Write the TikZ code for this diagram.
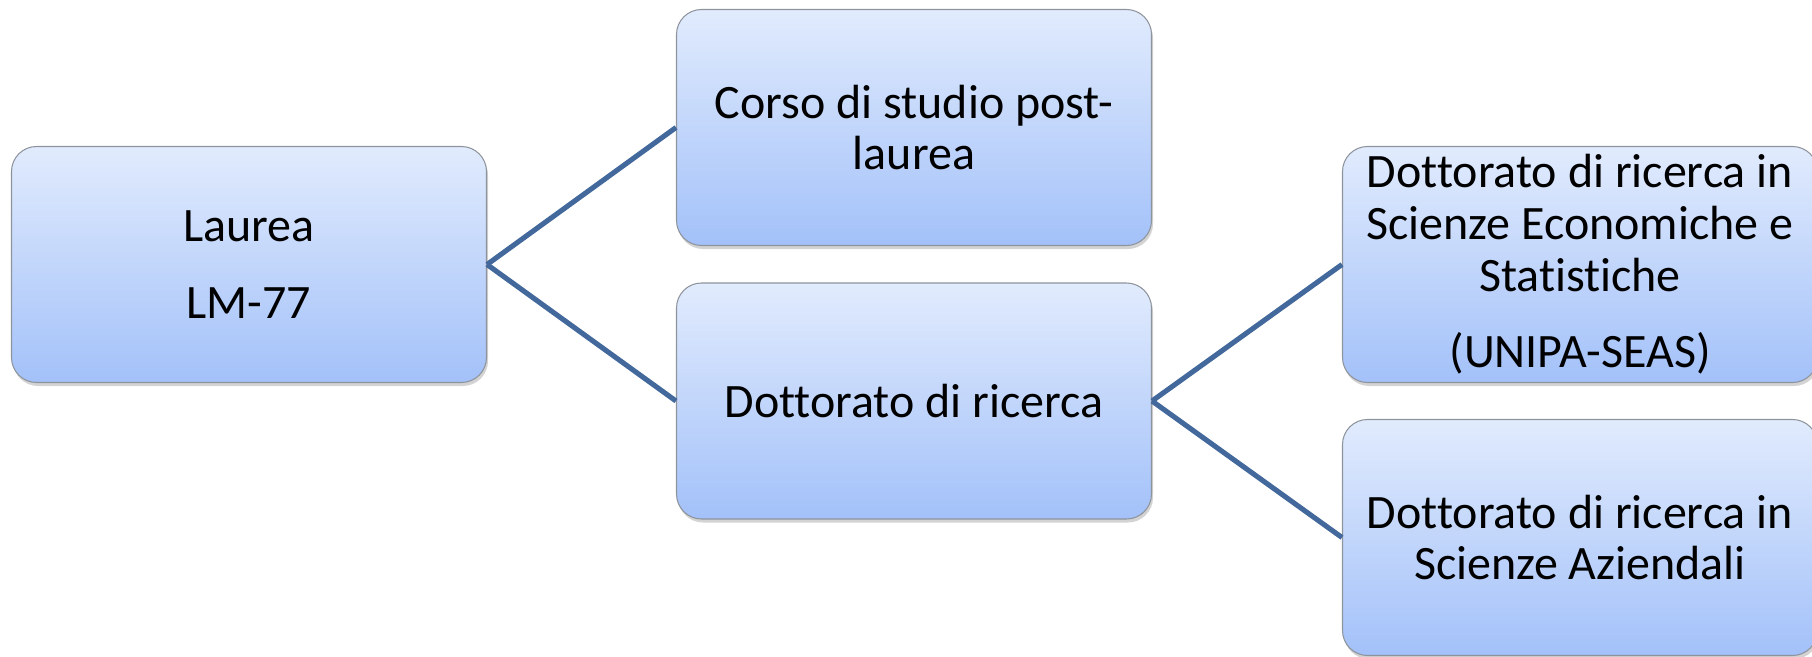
\documentclass[tikz,border=0pt]{standalone}
\usepackage{fontspec}
\setmainfont{Carlito}[Ligatures=NoCommon]
\usetikzlibrary{shadows}

\definecolor{boxtop}{HTML}{E1EBFD}
\definecolor{boxbottom}{HTML}{A3C1F9}
\definecolor{boxline}{HTML}{8E949C}
\definecolor{linkblue}{HTML}{43699C}

\tikzset{
  titlebox/.style={rectangle, rounded corners=0.5cm, draw=boxline, line width=0.6pt,
    top color=boxtop, bottom color=boxbottom, minimum width=9.5cm, minimum height=4.72cm,
    align=center, font=\fontsize{27.3}{29.5}\selectfont,
    drop shadow={shadow xshift=0.03cm, shadow yshift=-0.07cm, opacity=0.35}},
  link/.style={draw=linkblue, line width=2.9pt}
}

\begin{document}
\begin{tikzpicture}
      \useasboundingbox (0,0) rectangle (36.24,13.12);
      \node[titlebox] (laurea) at (4.98,7.83) {Laurea\\[14pt]LM-77};
      \node[titlebox] (corso) at (18.28,10.57) {Corso di studio post-\\laurea};
      \node[titlebox] (dottorato) at (18.28,5.10) {Dottorato di ricerca};
      \node[titlebox] (economia) at (31.6,7.83) {Dottorato di ricerca in\\Scienze Economiche e\\Statistiche\\[14pt](UNIPA-SEAS)};
      \node[titlebox] (aziendali) at (31.6,2.37) {Dottorato di ricerca in\\Scienze Aziendali};
      \draw[link] (laurea.east) -- (corso.west);
      \draw[link] (laurea.east) -- (dottorato.west);
      \draw[link] (dottorato.east) -- (economia.west);
      \draw[link] (dottorato.east) -- (aziendali.west);
    \end{tikzpicture}
\end{document}
